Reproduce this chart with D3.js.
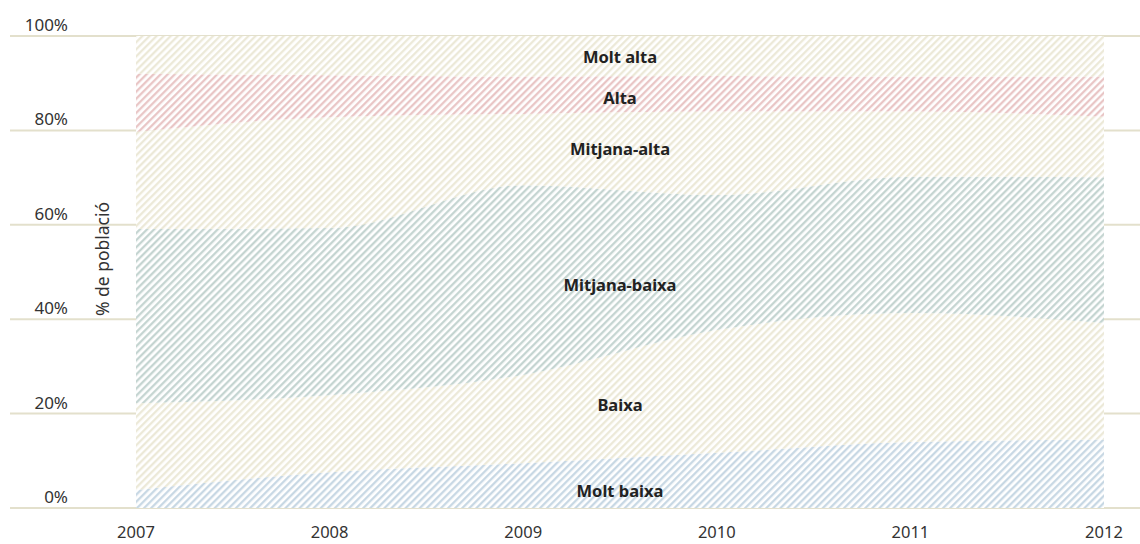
<!DOCTYPE html>
<html>
<head>
<meta charset="utf-8">
<script src="https://cdn.jsdelivr.net/npm/d3@7"></script>
<style>
	body { margin: 0; background: #fff; }
	svg { display: block; font-family: 'Noto Sans', 'Open Sans', sans-serif; }
</style>
</head>
<body>
<svg width="1140" height="544"></svg>
<script>
// Stacked areas, % of population per income level

var years = [2007, 2008, 2009, 2010, 2011, 2012]
var levels = ['Molt baixa', 'Baixa', 'Mitjana-baixa', 'Mitjana-alta', 'Alta', 'Molt alta']

var moltBaixa    = [3.8, 7.6, 9.5, 11.7, 14.0, 14.5]
var baixa        = [18.4, 16.3, 18.7, 26.0, 27.3, 24.7]
var mitjanaBaixa = [36.9, 35.4, 40.2, 28.6, 28.9, 30.9]
var mitjanaAlta  = [20.6, 23.5, 15.1, 17.7, 13.8, 12.8]
var alta         = [12.3, 8.9, 7.9, 7.5, 7.4, 8.5]
var moltAlta     = [8.0, 8.3, 8.6, 8.5, 8.6, 8.6]

// where the label of each band sits, in %
var labelAt = [3.6, 21.8, 47.2, 76.1, 86.9, 95.6]

var yTicks = [0, 20, 40, 60, 80, 100]

var colors = ['#c5d6e3', '#ebe8d6', '#c2d3cf', '#ebe8d6', '#e8c3c3', '#ebe8d6']

var series = [moltBaixa, baixa, mitjanaBaixa, mitjanaAlta, alta, moltAlta]
var rows = years.map(function(y, i) {
	var r = {year: y}
	levels.forEach(function(l, j) { r[l] = series[j][i] })
	return r
})

var svg = d3.select('svg')

var x = d3.scaleLinear().domain([2007, 2012]).range([136, 1104])
var y = d3.scaleLinear().domain([0, 100]).range([508, 36])

// hatch patterns
var defs = svg.append('defs')
colors.forEach(function(c, i) {
	var p = defs.append('pattern')
		.attr('id', 'hatch' + i)
		.attr('patternUnits', 'userSpaceOnUse')
		.attr('width', 5)
		.attr('height', 5)
		.attr('patternTransform', 'rotate(45)')
	p.append('rect').attr('width', 5).attr('height', 5).attr('fill', '#fff')
	p.append('line')
		.attr('x1', 1.2).attr('y1', 0)
		.attr('x2', 1.2).attr('y2', 5)
		.attr('stroke', c)
		.attr('stroke-width', 2.2)
})

// gridlines
svg.append('g')
	.selectAll('line')
	.data(yTicks)
	.enter()
	.append('line')
	.attr('x1', 10)
	.attr('x2', 1140)
	.attr('y1', function(d) { return y(d) })
	.attr('y2', function(d) { return y(d) })
	.attr('stroke', '#e3e0cc')
	.attr('stroke-width', 2)

var stack = d3.stack().keys(levels)
var layers = stack(rows)

var area = d3.area()
	.curve(d3.curveMonotoneX)
	.x(function(d) { return x(d.data.year) })
	.y0(function(d) { return y(d[0]) })
	.y1(function(d) { return y(d[1]) })

svg.append('g')
	.selectAll('path')
	.data(layers)
	.enter()
	.append('path')
	.attr('d', area)
	.attr('fill', function(d, i) { return 'url(#hatch' + i + ')' })

// band labels
svg.append('g')
	.selectAll('text')
	.data(levels)
	.enter()
	.append('text')
	.attr('x', (x(2007) + x(2012)) / 2)
	.attr('y', function(d, i) { return y(labelAt[i]) })
	.attr('dy', '0.35em')
	.attr('text-anchor', 'middle')
	.attr('font-size', 16.5)
	.attr('font-weight', 'bold')
	.attr('fill', '#222')
	.text(function(d) { return d })

// y tick labels
svg.append('g')
	.selectAll('text')
	.data(yTicks)
	.enter()
	.append('text')
	.attr('x', 68)
	.attr('y', function(d) { return y(d) - 5 })
	.attr('text-anchor', 'end')
	.attr('font-size', 17)
	.attr('fill', '#333')
	.text(function(d) { return d + '%' })

svg.append('text')
	.attr('transform', 'translate(109,259) rotate(-90)')
	.attr('text-anchor', 'middle')
	.attr('font-size', 17.5)
	.attr('fill', '#333')
	.text('% de població')

// x tick labels
svg.append('g')
	.selectAll('text')
	.data(years)
	.enter()
	.append('text')
	.attr('x', function(d) { return x(d) })
	.attr('y', 538)
	.attr('text-anchor', 'middle')
	.attr('font-size', 16.5)
	.attr('fill', '#333')
	.text(function(d) { return d })
</script>
</body>
</html>
